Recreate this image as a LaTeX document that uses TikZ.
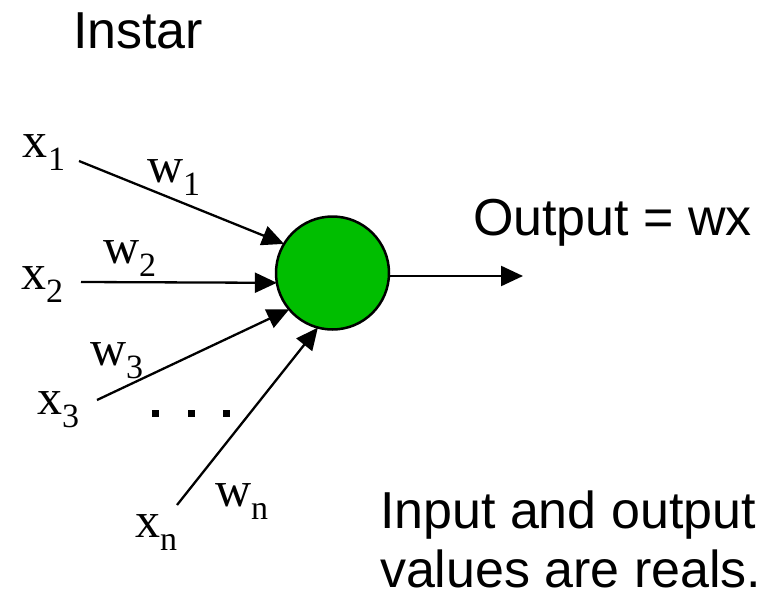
\documentclass[tikz,border=0pt]{standalone}
\usepackage{fontspec}
\setmainfont{Liberation Serif}
\newfontfamily\sansfnt{Liberation Sans}
\usetikzlibrary{arrows.meta}
\newcommand\varsub[2]{{\fontsize{50}{50}\selectfont #1}\raisebox{-13pt}{\fontsize{34}{34}\selectfont #2}}
\begin{document}
\begin{tikzpicture}[x=1pt,y=-1pt,
  lbl/.style={inner sep=0pt,outer sep=0pt,anchor=base west},
  sanslbl/.style={inner sep=0pt,outer sep=0pt,anchor=base west,font=\sansfnt\fontsize{52}{60}\selectfont},
  conn/.style={line width=2.3pt,-{Triangle[length=22pt,width=20pt]}},
  neuronstyle/.style={circle,draw,line width=2.5pt,fill={rgb,255:red,0;green,190;blue,0},minimum size=113pt,inner sep=0pt,outer sep=0pt},
  dotbox/.style={fill=black,minimum size=7pt,inner sep=0pt,outer sep=0pt}]
\useasboundingbox (0,0) rectangle (774,597);
\node[sanslbl] (title) at (73,48) {Instar};
\node[neuronstyle] (neuron) at (332.5,273) {};
\node[lbl] (x1) at (23,157) {\varsub{x}{1}};
\node[lbl] (x2) at (21,289) {\varsub{x}{2}};
\node[lbl] (x3) at (37,414) {\varsub{x}{3}};
\node[lbl] (xn) at (135,537) {\varsub{x}{n}};
\node[lbl] (w1) at (147,182) {\varsub{w}{1}};
\node[lbl] (w2) at (103,263) {\varsub{w}{2}};
\node[lbl] (w3) at (90,365) {\varsub{w}{3}};
\node[lbl] (wn) at (215,506) {\varsub{w}{n}};
\coordinate (s1) at (79,161);
\coordinate (s2) at (81,282);
\coordinate (s3) at (97,400);
\coordinate (sn) at (177,505);
\coordinate (out) at (523,276);
\draw[conn] (s1) -- (neuron.149);
\draw[conn] (s2) -- (neuron.190);
\draw[conn] (s3) -- (neuron.220);
\draw[conn] (sn) -- (neuron.255);
\draw[conn] (neuron.east |- out) -- (out);
\node[dotbox] (d1) at (155.5,413.5) {};
\node[dotbox] (d2) at (191.5,413.5) {};
\node[dotbox] (d3) at (226.5,413.5) {};
\node[sanslbl] (output) at (473,235) {Output = wx};
\node[sanslbl] (in1) at (380,528) {Input and output};
\node[sanslbl] (in2) at (380,587) {values are reals.};
\end{tikzpicture}
\end{document}
